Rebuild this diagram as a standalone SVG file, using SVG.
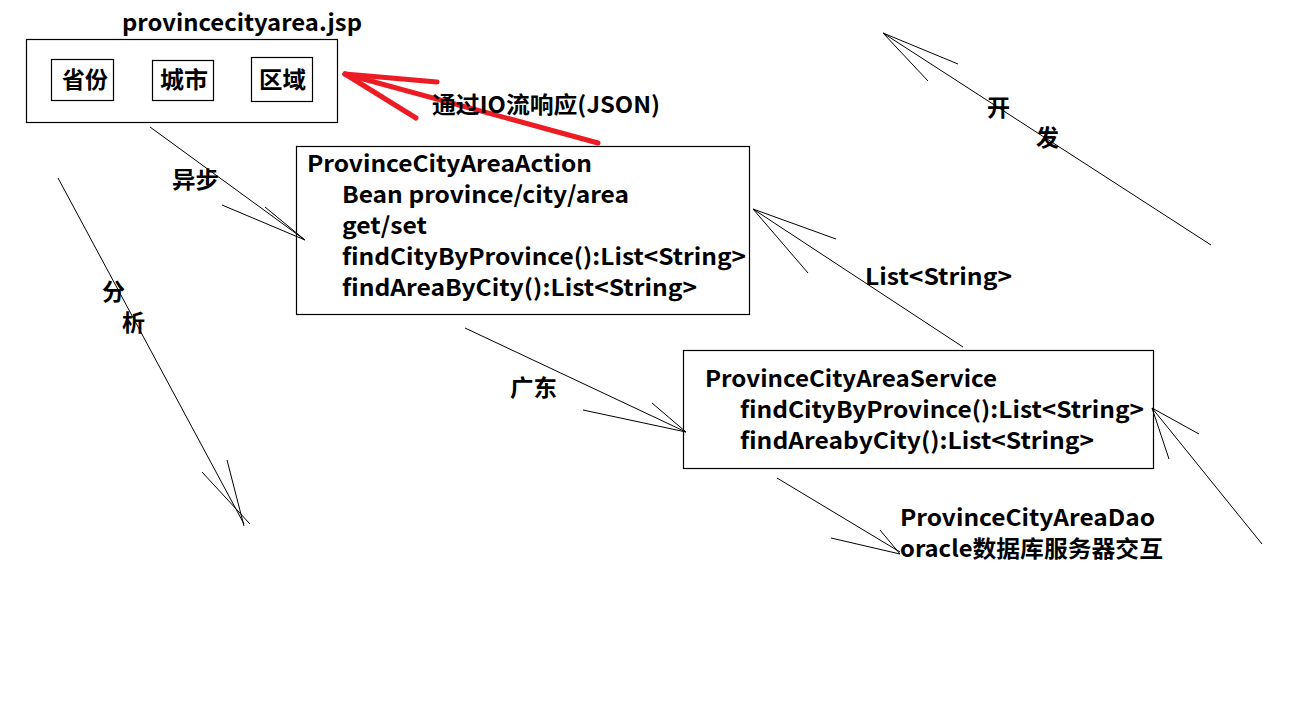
<svg xmlns="http://www.w3.org/2000/svg" width="1304" height="720" viewBox="0 0 1304 720">
<style>
text{font-family:"Microsoft YaHei","Noto Sans CJK SC","Noto Sans",sans-serif;font-weight:bold;font-size:23px;fill:#000}
.cjk{font-size:23px}
.box{fill:none;stroke:#000;stroke-width:1.2}
.ln{stroke:#000;stroke-width:1;fill:none}
.red{stroke:#ed1c24;stroke-width:5;fill:none;stroke-linecap:round}
</style>
<rect width="1304" height="720" fill="#fff"/>
<g id="connectors">
  <g id="edge-json">
    <line class="red" x1="598" y1="143" x2="345" y2="74"/>
    <line class="red" x1="345" y1="74" x2="437" y2="82"/>
    <line class="red" x1="345" y1="74" x2="416" y2="118"/>
  </g>
  <g id="edge-async">
    <line class="ln" x1="150" y1="127" x2="305" y2="240"/>
    <line class="ln" x1="222" y1="205" x2="305" y2="240"/>
    <line class="ln" x1="265" y1="207" x2="305" y2="240"/>
  </g>
  <g id="edge-analysis">
    <line class="ln" x1="58" y1="178" x2="244" y2="524"/>
    <line class="ln" x1="202" y1="472" x2="250" y2="524"/>
    <line class="ln" x1="227" y1="460" x2="244" y2="526"/>
  </g>
  <g id="edge-develop">
    <line class="ln" x1="1211" y1="245" x2="883" y2="33"/>
    <line class="ln" x1="883" y1="33" x2="958" y2="64"/>
    <line class="ln" x1="883" y1="33" x2="928" y2="81"/>
  </g>
  <g id="edge-list">
    <line class="ln" x1="963" y1="347" x2="753" y2="209"/>
    <line class="ln" x1="753" y1="209" x2="836" y2="239"/>
    <line class="ln" x1="753" y1="209" x2="808" y2="273"/>
  </g>
  <g id="edge-gd">
    <line class="ln" x1="465" y1="328" x2="686" y2="432"/>
    <line class="ln" x1="583" y1="410" x2="686" y2="432"/>
    <line class="ln" x1="652" y1="403" x2="686" y2="432"/>
  </g>
  <g id="edge-dao">
    <line class="ln" x1="777" y1="478" x2="900" y2="552"/>
    <line class="ln" x1="831" y1="538" x2="900" y2="554"/>
    <line class="ln" x1="880" y1="530" x2="900" y2="554"/>
  </g>
  <g id="edge-return">
    <line class="ln" x1="1262" y1="544" x2="1152" y2="408"/>
    <line class="ln" x1="1152" y1="408" x2="1199" y2="434"/>
    <line class="ln" x1="1152" y1="408" x2="1169" y2="459"/>
  </g>
</g>
<g id="node-jsp">
  <text x="122" y="31" textLength="240" lengthAdjust="spacingAndGlyphs">provincecityarea.jsp</text>
  <rect class="box" x="26.5" y="39.5" width="311" height="83"/>
  <rect class="box" x="51.5" y="59.5" width="62" height="41"/>
  <text x="62" y="88" textLength="46" lengthAdjust="spacingAndGlyphs">省份</text>
  <rect class="box" x="152.5" y="60.5" width="61" height="40"/>
  <text x="160" y="88" textLength="48" lengthAdjust="spacingAndGlyphs">城市</text>
  <rect class="box" x="251.5" y="57.5" width="61" height="44"/>
  <text x="259" y="88" textLength="47" lengthAdjust="spacingAndGlyphs">区域</text>
</g>
<g id="node-action">
  <rect class="box" x="296.5" y="146.5" width="453" height="168"/>
  <text x="307" y="172" textLength="285" lengthAdjust="spacingAndGlyphs">ProvinceCityAreaAction</text>
  <text x="342" y="203" textLength="287" lengthAdjust="spacingAndGlyphs">Bean province/city/area</text>
  <text x="342" y="234" textLength="85" lengthAdjust="spacingAndGlyphs">get/set</text>
  <text x="342" y="265" textLength="404" lengthAdjust="spacingAndGlyphs">findCityByProvince():List&lt;String&gt;</text>
  <text x="342" y="296" textLength="355" lengthAdjust="spacingAndGlyphs">findAreaByCity():List&lt;String&gt;</text>
</g>
<g id="node-service">
  <rect class="box" x="683.5" y="350.5" width="470" height="118"/>
  <text x="705" y="387" textLength="292" lengthAdjust="spacingAndGlyphs">ProvinceCityAreaService</text>
  <text x="740" y="418" textLength="404" lengthAdjust="spacingAndGlyphs">findCityByProvince():List&lt;String&gt;</text>
  <text x="740" y="449" textLength="354" lengthAdjust="spacingAndGlyphs">findAreabyCity():List&lt;String&gt;</text>
</g>
<g id="node-dao">
  <text x="900" y="526" textLength="255" lengthAdjust="spacingAndGlyphs">ProvinceCityAreaDao</text>
  <text x="900" y="557" textLength="263" lengthAdjust="spacingAndGlyphs">oracle数据库服务器交互</text>
</g>
<g id="labels">
  <text x="432" y="113" textLength="228" lengthAdjust="spacingAndGlyphs">通过IO流响应(JSON)</text>
  <text x="172" y="188" textLength="47" lengthAdjust="spacingAndGlyphs">异步</text>
  <text x="102" y="300">分</text>
  <text x="122" y="331">析</text>
  <text x="987" y="116">开</text>
  <text x="1036" y="146">发</text>
  <text x="865" y="285" textLength="147" lengthAdjust="spacingAndGlyphs">List&lt;String&gt;</text>
  <text x="510" y="396" textLength="47" lengthAdjust="spacingAndGlyphs">广东</text>
</g>
</svg>
